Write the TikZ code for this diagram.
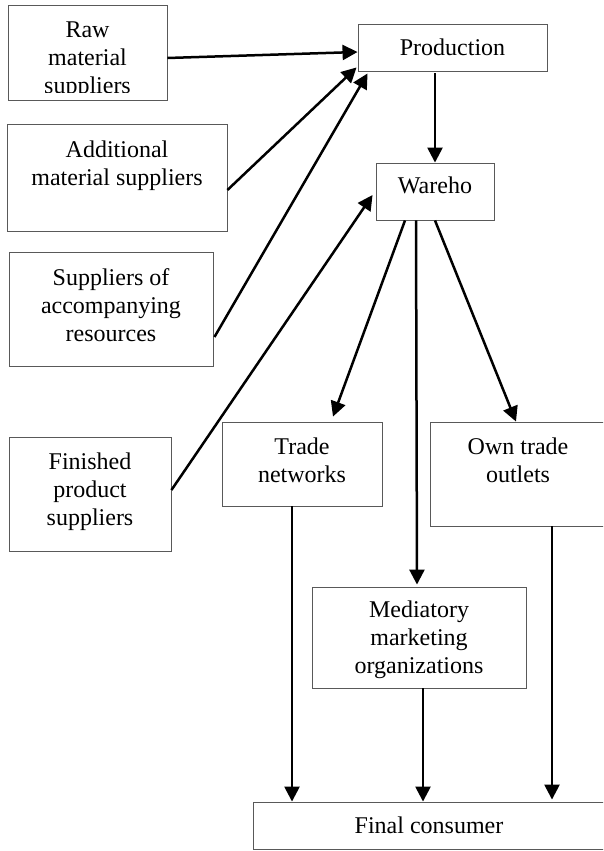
\documentclass[tikz,border=0pt]{standalone}
\usepackage{fontspec}
\setmainfont{Liberation Serif}
\usetikzlibrary{arrows.meta,calc}
\tikzset{
  box/.style={draw=black!65, line width=0.9pt, inner sep=0pt, fill=none},
  txt/.style={anchor=north, align=center, inner sep=0pt, font=\fontsize{24}{28}\selectfont},
  arr/.style={line width=2.5pt, -{Triangle[length=15pt,width=15pt]}},
  ln/.style={line width=2.5pt}
}
\begin{document}
\begin{tikzpicture}[x=1pt,y=-1pt]
\useasboundingbox (0,0) rectangle (603,851);
\clip (0,0) rectangle (603,851);
% boxes
\node[box, minimum width=159, minimum height=95] (raw) at (87.5,52.5) {};
\node[box, minimum width=220, minimum height=107] (add) at (117,177.5) {};
\node[box, minimum width=204, minimum height=114] (sup) at (111,309) {};
\node[box, minimum width=162, minimum height=114] (fin) at (90,494) {};
\node[box, minimum width=189, minimum height=47] (prod) at (452.5,47.5) {};
\node[box, minimum width=118, minimum height=57] (ware) at (435,191.5) {};
\node[box, minimum width=160, minimum height=84] (trade) at (302,464) {};
\node[box, minimum width=176, minimum height=104] (own) at (518,474) {};
\node[box, minimum width=214, minimum height=101] (med) at (419,637.5) {};
\node[box, minimum width=352, minimum height=47] (final) at (429,825.5) {};
% texts
\begin{scope}
\clip (8,5) rectangle (167,92);
\node[txt] (rawt) at (87.5,22) {Raw\\material\\suppliers};
\end{scope}
\node[txt] (addt) at (117,141) {Additional\\material suppliers};
\node[txt] (supt) at (111,268) {Suppliers of\\accompanying\\resources};
\node[txt] (fint) at (90,453) {Finished\\product\\suppliers};
\node[txt] (prodt) at (452.5,39) {Production};
\node[txt] (waret) at (435,177) {Wareho};
\node[txt] (tradet) at (302,438) {Trade\\networks};
\node[txt] (ownt) at (518,438) {Own trade\\outlets};
\node[txt] (medt) at (419,601) {Mediatory\\marketing\\organizations};
\node[txt] (finalt) at (429,817) {Final consumer};
% connectors
\draw[arr] ($(raw.east)+(0,5.5)$) -- ($(prod.west)+(0,4.5)$);
\draw[arr] ($(add.east)+(0,12.5)$) -- ($(prod.south west)+(-1,-4)$);
\draw[arr] ($(sup.east)+(1,28)$) -- ($(prod.south west)+(10,2)$);
\draw[arr] ($(fin.east)+(0,-4)$) -- ($(ware.west)+(-3,3.5)$);
\draw[arr] ($(ware.north |- prod.south)+(0,2)$) -- (ware.north);
\draw[arr] ($(ware.south)+(-30,0)$) -- ($(trade.north)+(31,-5)$);
\draw[arr] ($(ware.south)+(-19,0)$) -- ($(med.north)+(-2,-2)$);
\draw[arr] (ware.south) -- ($(own.north)+(-2,0)$);
\coordinate (c1) at ($(trade.south)+(-10,0)$);
\draw[arr] (c1) -- (c1 |- final.north);
\coordinate (c2) at ($(med.south)+(4,0)$);
\draw[arr] (c2) -- (c2 |- final.north);
\coordinate (c3) at ($(own.south)+(34,0)$);
\draw[arr] (c3) -- ($(c3 |- final.north)+(0,-2)$);
\end{tikzpicture}
\end{document}
